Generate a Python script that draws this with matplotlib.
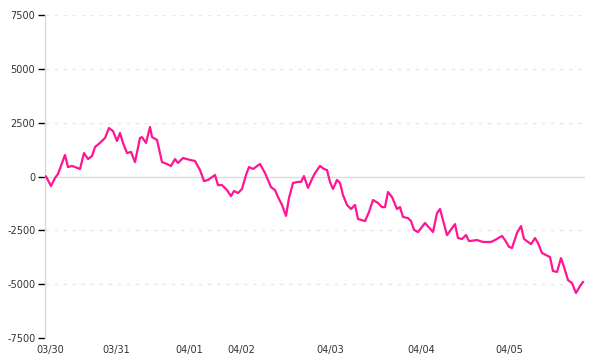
import matplotlib
matplotlib.use('Agg')
import matplotlib.pyplot as plt

# position along the time axis (bar offset) and cumulative value
bar = [0, 5, 9, 12, 16, 19, 22, 26, 29, 34, 38, 42, 46, 49, 54, 59, 63, 67, 71, 74,
       77, 81, 85, 89, 94, 96, 100, 104, 106, 111, 116, 121, 125, 129, 132, 137, 144, 149,
       154, 158, 162, 169, 172, 176, 181, 185, 188, 192, 196, 200, 203, 207, 214, 219,
       225, 229, 232, 236, 240, 243, 247, 252, 255, 258, 262, 266, 269, 274, 278, 281,
       284, 287, 291, 294, 297, 301, 305, 309, 312, 319, 323, 327, 332, 336, 339, 342,
       346, 351, 354, 357, 362, 365, 368, 372, 379, 387, 391, 394, 401, 409, 412, 416,
       420, 423, 431, 437, 445, 449, 456, 459, 463, 466, 471, 475, 478, 485, 489, 492,
       496, 500, 504, 507, 511, 515, 518, 522, 526, 530, 534, 537]
pnl = [0, -440, -70, 120, 630, 1000, 440, 490, 440, 350, 1090, 810, 950, 1370, 1560,
       1790, 2250, 2110, 1650, 2020, 1560, 1090, 1140, 670, 1790, 1830, 1560, 2300, 1830,
       1700, 670, 580, 490, 810, 630, 860, 770, 720, 300, -210, -160, 70, -400, -400,
       -630, -910, -670, -770, -580, 70, 440, 350, 580, 160, -490, -630, -950, -1320,
       -1830, -1000, -300, -250, -250, 20, -530, -120, 160, 490, 350, 300, -250, -580,
       -160, -300, -860, -1320, -1510, -1320, -1970, -2070, -1650, -1090, -1230, -1420,
       -1420, -720, -950, -1510, -1420, -1880, -1930, -2070, -2480, -2580, -2160, -2580,
       -1700, -1510, -2720, -2210, -2860, -2900, -2720, -3000, -2950, -3040, -3040,
       -2950, -2760, -2950, -3270, -3320, -2620, -2300, -2900, -3140, -2860, -3090,
       -3550, -3650, -3740, -4390, -4430, -3790, -4200, -4810, -4950, -5410, -5090, -4900]

day_pos = [4, 70, 143, 195, 284, 375, 463]
day_labels = ['03/30', '03/31', '04/01', '04/02', '04/03', '04/04', '04/05']
y_ticks = [-7500, -5000, -2500, 0, 2500, 5000, 7500]

fig = plt.figure(figsize=(6, 3.6), dpi=100)
ax = fig.add_axes([0.075, 0.0611, 0.9, 0.8972])

for yv in y_ticks:
    if yv == 0:
        ax.axhline(0, color='#dcdcdc', lw=1, zorder=1)
    else:
        ax.axhline(yv, color='#e8e8e8', lw=1, ls=(0, (2.5, 4)), zorder=1)

ax.plot(bar, pnl, color='#ff1493', lw=1.6, zorder=3)

ax.set_xlim(-1, 539)
ax.set_ylim(-7500, 7500)
ax.set_yticks(y_ticks)
ax.set_yticklabels([str(v) for v in y_ticks])
ax.set_xticks(day_pos)
ax.set_xticklabels(day_labels)

for s in ['top', 'right', 'bottom']:
    ax.spines[s].set_visible(False)
ax.spines['left'].set_color('#d8d8d8')
ax.spines['left'].set_linewidth(1)

ax.tick_params(axis='y', length=5, width=1, color='black', pad=2,
               labelsize=7, labelcolor='#333333')
ax.tick_params(axis='x', length=0, pad=5, labelsize=7, labelcolor='#333333')

fig.savefig('out.png', dpi=100)
